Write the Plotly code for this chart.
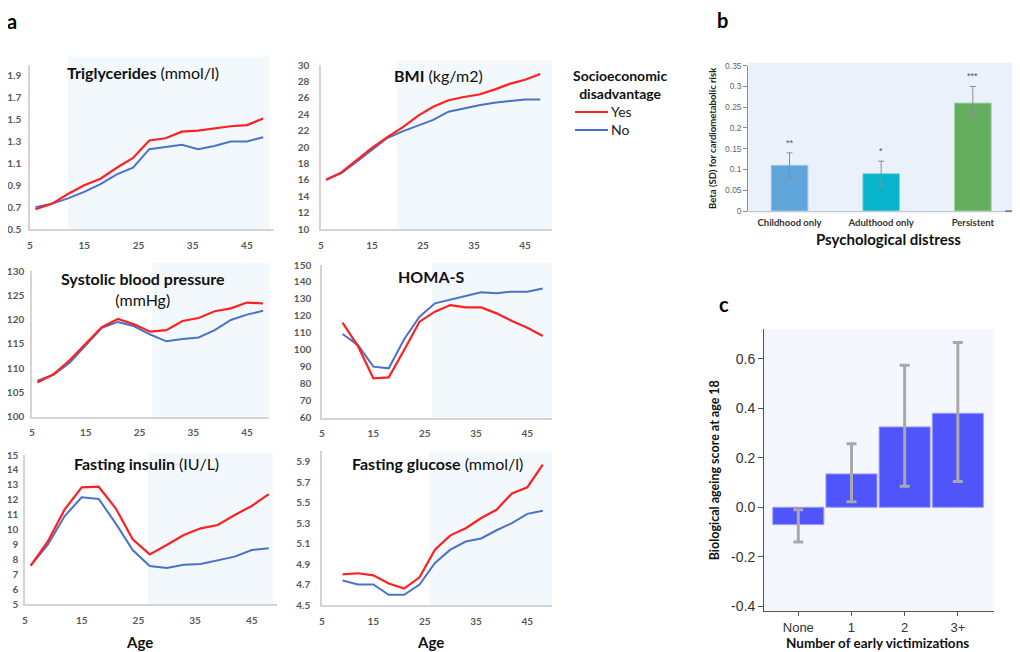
import plotly.graph_objects as go

# ---- data ----
ages = list(range(6, 49, 3))          # 6..48
ages9 = list(range(9, 49, 3))         # 9..48

tg_yes = [0.68, 0.73, 0.82, 0.90, 0.96, 1.06, 1.15, 1.31, 1.33, 1.39, 1.40, 1.42, 1.44, 1.45, 1.51]
tg_no = [0.70, 0.73, 0.78, 0.84, 0.91, 1.00, 1.06, 1.23, 1.25, 1.27, 1.23, 1.26, 1.30, 1.30, 1.34]

bmi_yes = [16.0, 16.9, 18.4, 19.9, 21.2, 22.4, 23.8, 24.9, 25.7, 26.1, 26.4, 27.0, 27.7, 28.2, 28.9]
bmi_no = [16.0, 16.8, 18.2, 19.7, 21.1, 21.9, 22.6, 23.3, 24.3, 24.7, 25.1, 25.4, 25.6, 25.8, 25.8]

sbp_yes = [107.0, 108.7, 111.6, 115.1, 118.4, 120.1, 119.0, 117.5, 117.8, 119.7, 120.3, 121.7, 122.3, 123.5, 123.3]
sbp_no = [107.4, 108.6, 111.1, 114.7, 118.3, 119.5, 118.6, 116.9, 115.5, 116.0, 116.3, 117.8, 119.9, 121.0, 121.8]

homa_yes = [116.0, 102.2, 83.2, 83.8, 99.9, 116.6, 122.5, 126.4, 125.0, 125.0, 121.5, 117.0, 113.0, 108.1]
homa_no = [109.3, 102.8, 90.1, 89.1, 106.2, 119.5, 127.4, 129.7, 131.7, 133.9, 133.3, 134.3, 134.3, 136.2]

fi_yes = [7.57, 9.18, 11.35, 12.83, 12.87, 11.42, 9.34, 8.33, 8.96, 9.63, 10.08, 10.30, 10.97, 11.58, 12.38]
fi_no = [7.57, 8.96, 10.90, 12.16, 12.05, 10.41, 8.62, 7.55, 7.42, 7.64, 7.68, 7.95, 8.18, 8.62, 8.74]

fg_yes = [4.80, 4.81, 4.79, 4.71, 4.66, 4.77, 5.04, 5.18, 5.25, 5.35, 5.43, 5.59, 5.65, 5.87]
fg_no = [4.74, 4.70, 4.70, 4.60, 4.60, 4.70, 4.91, 5.04, 5.12, 5.15, 5.23, 5.30, 5.39, 5.42]

age_ticks = [5, 15, 25, 35, 45]
tg_ticks = [0.5, 0.7, 0.9, 1.1, 1.3, 1.5, 1.7, 1.9]
bmi_ticks = [10, 12, 14, 16, 18, 20, 22, 24, 26, 28, 30]
sbp_ticks = [100, 105, 110, 115, 120, 125, 130]
homa_ticks = [60, 70, 80, 90, 100, 110, 120, 130, 140, 150]
fi_ticks = [5, 6, 7, 8, 9, 10, 11, 12, 13, 14, 15]
fg_ticks = [4.5, 4.7, 4.9, 5.1, 5.3, 5.5, 5.7, 5.9]

# panel b
distress_cats = ["Childhood only", "Adulthood only", "Persistent"]
distress_beta = [0.11, 0.09, 0.26]
distress_lo = [0.08, 0.06, 0.22]
distress_hi = [0.14, 0.12, 0.30]
distress_sig = ["**", "*", "***"]
b_ticks = [0, 0.05, 0.1, 0.15, 0.2, 0.25, 0.3, 0.35]
b_ticktext = ["0", "0.05", "0.1", "0.15", "0.2", "0.25", "0.3", "0.35"]

# panel c
vict_cats = ["None", "1", "2", "3+"]
vict_score = [-0.07, 0.135, 0.325, 0.38]
vict_lo = [-0.14, 0.022, 0.085, 0.104]
vict_hi = [-0.01, 0.257, 0.574, 0.666]
c_ticks = [-0.4, -0.2, 0.0, 0.2, 0.4, 0.6]
c_ticktext = ["-0.4", "-0.2", "0.0", "0.2", "0.4", "0.6"]

# ---- style ----
# page body has an 8px margin, so the figure is drawn 8px smaller and positions shifted
OFF = 8
W, H = 1020 - OFF, 652 - OFF
FONT = "Lato, Carlito, sans-serif"
ARIAL = "Liberation Sans, Arial, sans-serif"
RED = "#ff2020"
BLUE = "#4a72c8"
SHADE = "#f3f8fd"


def px_x(a):
    return (a - OFF) / W


def px_y(a):
    return 1 - (a - OFF) / H


def dx(a, b):
    return [px_x(a), px_x(b)]


def dy(top, bottom):
    return [px_y(bottom), px_y(top)]


def note(text, px, py, size, family=FONT, color="#111111", xanchor="center"):
    return dict(text=text, x=px_x(px), y=px_y(py), xref="paper", yref="paper",
                showarrow=False, xanchor=xanchor, yanchor="middle",
                font=dict(family=family, size=size, color=color))


fig = go.Figure()
layout = {}
shapes = []
annotations = []

# n, x-domain px, y-domain px, x range, y range, yticks, yfmt, yes, no, x, title pos, title,
# shade start/end, shade top, y-label standoff
panels = [
    (1, (30, 274), (65, 229), [5, 50], [0.5, 2.0], tg_ticks, ".1f", tg_yes, tg_no, ages,
     (143, 73), "<b>Triglycerides</b> (mmol/l)", (12.0, 49.1), 1.05, 5),
    (2, (321, 552), (65, 229), [5, 50.3], [10, 30], bmi_ticks, "d", bmi_yes, bmi_no, ages,
     (438, 75), "<b>BMI</b> (kg/m2)", (19.8, 51.5), 1.03, 8),
    (3, (32, 269), (271, 416.5), [5, 49.1], [100, 130], sbp_ticks, "d", sbp_yes, sbp_no, ages,
     (143, 289), "<b>Systolic blood pressure</b><br>(mmHg)", (27.4, 49.1), 1.055, 4),
    (4, (322, 552), (265, 417.7), [5, 49.8], [60, 150], homa_ticks, "d", homa_yes, homa_no, ages9,
     (431, 276), "<b>HOMA-S</b>", (26.4, 50.6), 1.015, 7),
    (5, (25, 276.7), (455, 604), [5, 49.4], [5, 15], fi_ticks, "d", fi_yes, fi_no, ages,
     (146, 463), "<b>Fasting insulin</b> (IU/L)", (26.7, 48.7), 1.015, 3),
    (6, (322, 552), (451.4, 605), [5, 49.8], [4.5, 6.0], fg_ticks, ".1f", fg_yes, fg_no, ages9,
     (437, 463), "<b>Fasting glucose</b> (mmol/l)", (25.9, 50.6), 1.0, 8),
]

tickfont_a = dict(family=FONT, size=10, color="#595959", weight="bold")

for (n, xd, yd, xr, yr, yt, yfmt, yes, no, xs, tpos, title, shade, stop, ystand) in panels:
    xa = "x" if n == 1 else f"x{n}"
    ya = "y" if n == 1 else f"y{n}"
    layout[f"xaxis{n}"] = dict(domain=dx(*xd), range=xr, anchor=ya, tickvals=age_ticks,
                               showline=True, linecolor="#d4d4d4", linewidth=1.5,
                               showgrid=False, zeroline=False, ticks="", automargin=False,
                               tickfont=tickfont_a, ticklabelstandoff=6)
    layout[f"yaxis{n}"] = dict(domain=dy(*yd), range=yr, anchor=xa, tickvals=yt,
                               tickformat=yfmt, showline=True, linecolor="#d4d4d4",
                               linewidth=1.5, showgrid=False, zeroline=False, ticks="",
                               automargin=False, tickfont=tickfont_a,
                               ticklabelstandoff=ystand)
    shapes.append(dict(type="rect", xref=xa, x0=shade[0], x1=shade[1],
                       yref=f"{ya} domain", y0=0, y1=stop,
                       fillcolor=SHADE, line_width=0, layer="below"))
    fig.add_trace(go.Scatter(x=xs, y=no, mode="lines", name="No", xaxis=xa, yaxis=ya,
                             line=dict(color=BLUE, width=2), showlegend=False))
    fig.add_trace(go.Scatter(x=xs, y=yes, mode="lines", name="Yes", xaxis=xa, yaxis=ya,
                             line=dict(color=RED, width=2.2), showlegend=False))
    annotations.append(note(title, tpos[0], tpos[1], 16))

for xpos in (139, 430):
    annotations.append(note("<b>Age</b>", xpos, 642, 15))

# legend drawn by hand so the spacing matches
annotations.append(note("<b>Socioeconomic<br>disadvantage</b>", 571, 84.5, 14, xanchor="left"))
for lab, col, yy in [("Yes", RED, 112), ("No", BLUE, 130)]:
    shapes.append(dict(type="line", xref="paper", yref="paper", x0=px_x(575), x1=px_x(608),
                       y0=px_y(yy), y1=px_y(yy), line=dict(color=col, width=2.2)))
    annotations.append(note(lab, 609, yy, 14, color="#222222", xanchor="left"))

# ---- panel b ----
layout["xaxis7"] = dict(domain=dx(748.3, 1015), range=[-0.45, 2.46], anchor="y7",
                        showline=True, linecolor="#c8c8c8", linewidth=1, showgrid=False,
                        zeroline=False, ticks="", automargin=False,
                        tickfont=dict(family=FONT, size=9.5, color="#333333", weight="bold"),
                        ticklabelstandoff=3)
layout["yaxis7"] = dict(domain=dy(65.7, 211), range=[0, 0.35], anchor="x7", tickvals=b_ticks,
                        ticktext=b_ticktext, showline=True, linecolor="#8a8a8a", linewidth=1,
                        showgrid=False, zeroline=False, ticks="outside", ticklen=4,
                        tickcolor="#8a8a8a", automargin=False,
                        tickfont=dict(family=ARIAL, size=8.5, color="#666666"),
                        title=dict(text="<b>Beta (SD) for cardiometabolic risk</b>",
                                   font=dict(family=FONT, size=9.5, color="#222222"),
                                   standoff=6))
shapes.append(dict(type="rect", xref="x7 domain", x0=0, x1=1, yref="y7 domain", y0=-0.015,
                   y1=1.02, fillcolor="#ebf1fb", line_width=0, layer="below"))
shapes.append(dict(type="line", xref="x7 domain", x0=0.963, x1=1.0, yref="y7 domain",
                   y0=0, y1=0, line=dict(color="#555555", width=1.2)))
fig.add_trace(go.Bar(
    x=distress_cats, y=distress_beta, xaxis="x7", yaxis="y7", width=0.4, showlegend=False,
    marker=dict(color=["#5fa5da", "#08b3cc", "#65ae60"],
                line=dict(color=["#9cc8ec", "#7fd6e3", "#a5d2a2"], width=1)),
    error_y=dict(type="data", symmetric=False,
                 array=[h - v for h, v in zip(distress_hi, distress_beta)],
                 arrayminus=[v - l for v, l in zip(distress_beta, distress_lo)],
                 color="#8c8c8c", thickness=1, width=3),
))
for c, h, s in zip(distress_cats, distress_hi, distress_sig):
    annotations.append(dict(text=s, x=c, y=h, xref="x7", yref="y7", showarrow=False,
                            xanchor="center", yanchor="bottom", yshift=3,
                            font=dict(family=ARIAL, size=9, color="#555555")))
annotations.append(note("<b>Psychological distress</b>", 888, 239, 15))

# ---- panel c ----
layout["xaxis8"] = dict(domain=dx(764, 994), range=[-0.645, 3.68], anchor="y8",
                        showline=True, linecolor="#555555", linewidth=1, showgrid=False,
                        zeroline=False, ticks="outside", ticklen=4, tickcolor="#555555",
                        automargin=False,
                        tickfont=dict(family=ARIAL, size=13, color="#333333"),
                        ticklabelstandoff=0)
layout["yaxis8"] = dict(domain=dy(329.2, 611.2), range=[-0.42, 0.72], anchor="x8",
                        tickvals=c_ticks, ticktext=c_ticktext, showline=True,
                        linecolor="#555555", linewidth=1, showgrid=False, zeroline=False,
                        ticks="outside", ticklen=5, tickcolor="#555555", automargin=False,
                        tickfont=dict(family=ARIAL, size=14, color="#333333"),
                        title=dict(text="<b>Biological ageing score at age 18</b>",
                                   font=dict(family=FONT, size=12.5, color="#111111"),
                                   standoff=8))
shapes.append(dict(type="rect", xref="x8 domain", x0=0, x1=1, yref="y8 domain", y0=0,
                   y1=1, fillcolor="#f4f7fd", line_width=0, layer="below"))
fig.add_trace(go.Bar(
    x=vict_cats, y=vict_score, xaxis="x8", yaxis="y8", width=0.96, showlegend=False,
    marker=dict(color="#4f55fb", line=dict(color="#9a9dfc", width=1)),
    error_y=dict(type="data", symmetric=False,
                 array=[h - v for h, v in zip(vict_hi, vict_score)],
                 arrayminus=[v - l for v, l in zip(vict_score, vict_lo)],
                 color="#a9a9a9", thickness=3, width=5),
))
annotations.append(note("<b>Number of early victimizations</b>", 877, 643, 13.5))

# panel letters
for t, (px, py) in zip(["a", "b", "c"], [(12, 21), (722, 20), (724, 304)]):
    annotations.append(note(f"<b>{t}</b>", px, py, 20, color="#000000"))

fig.update_layout(
    width=W, height=H, margin=dict(l=0, r=0, t=0, b=0, autoexpand=False),
    paper_bgcolor="white", plot_bgcolor="rgba(0,0,0,0)",
    shapes=shapes, annotations=annotations, showlegend=False,
    **layout,
)

fig.write_html("out.html")
